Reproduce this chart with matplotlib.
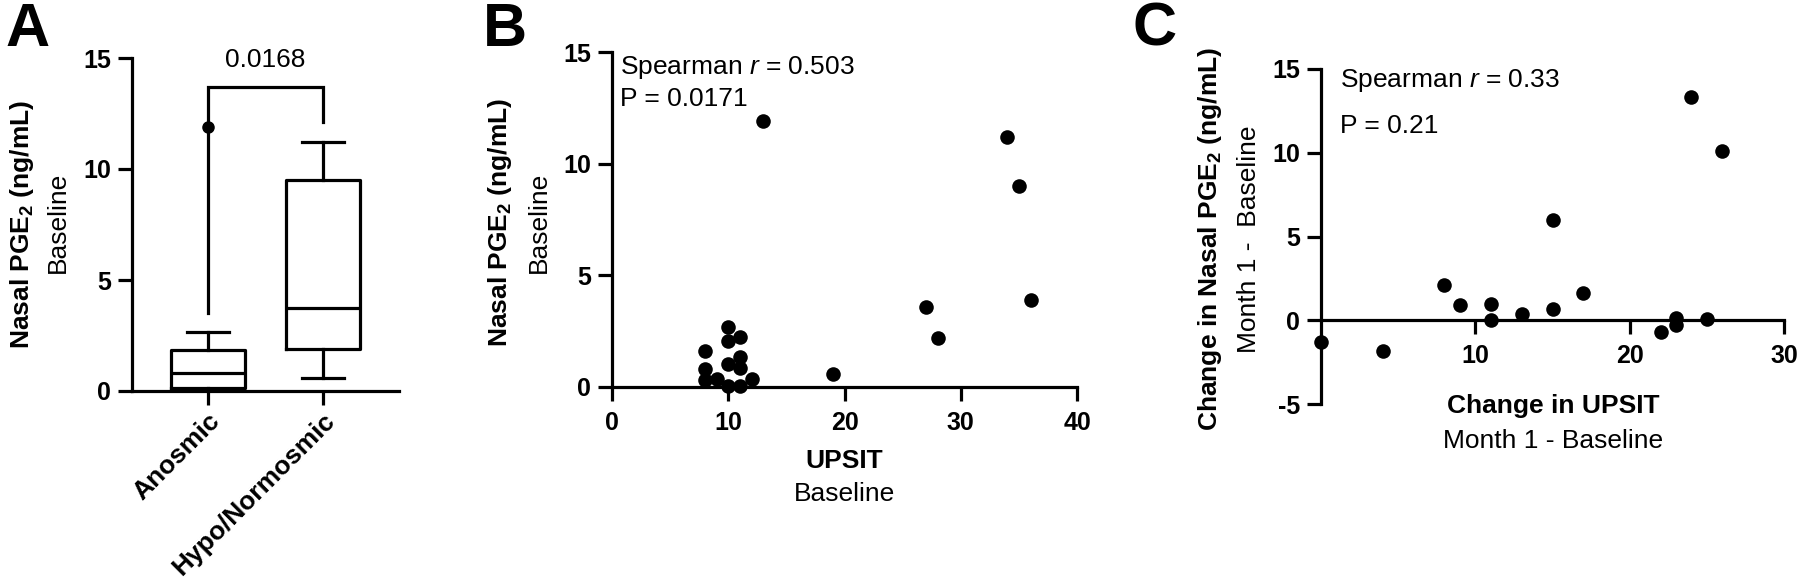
import matplotlib
matplotlib.use('Agg')
import matplotlib.pyplot as plt

plt.rcParams['font.family'] = ['Liberation Sans', 'DejaVu Sans']
plt.rcParams['mathtext.fontset'] = 'custom'
plt.rcParams['mathtext.rm'] = 'Liberation Sans'
plt.rcParams['mathtext.it'] = 'Liberation Sans:italic'
plt.rcParams['mathtext.bf'] = 'Liberation Sans:bold'
plt.rcParams['axes.unicode_minus'] = False

# ---------------- Panel A data (box plot statistics) ----------------
groups = ['Anosmic', 'Hypo/Normosmic']
box_whislo = [0.05, 0.6]
box_q1 = [0.12, 1.9]
box_med = [0.8, 3.75]
box_q3 = [1.85, 9.5]
box_whishi = [2.64, 11.2]
box_fliers = [[11.9], []]
pval_A = '0.0168'
bracket_y = 13.7
bracket_ends = [3.5, 12.1]

# ---------------- Panel B data ----------------
upsit_baseline = [8, 8, 8, 9, 10, 10, 10, 10, 11, 11, 11, 11, 12, 13, 19, 27, 28, 34, 35, 36]
pge2_baseline = [1.6, 0.8, 0.3, 0.38, 2.7, 2.05, 1.03, 0.05, 2.25, 1.33, 0.83, 0.05, 0.35,
                 11.9, 0.6, 3.6, 2.2, 11.2, 9.0, 3.9]
stats_B = ['Spearman $r$ = 0.503', 'P = 0.0171']

# ---------------- Panel C data ----------------
upsit_change = [0, 4, 8, 9, 11, 11, 13, 15, 15, 17, 22, 23, 23, 24, 25, 26]
pge2_change = [-1.3, -1.85, 2.1, 0.9, 1.0, 0.0, 0.4, 6.0, 0.65, 1.65, -0.7, 0.15, -0.3, 13.3, 0.05, 10.1]
stats_C = ['Spearman $r$ = 0.33', 'P = 0.21']

W, H = 1800, 581
fig = plt.figure(figsize=(W / 100, H / 100), dpi=100)


def rect(left, right, top, bottom):
    return [left / W, 1 - bottom / H, (right - left) / W, (bottom - top) / H]


LW = 2.3
TICK_FS = 18
LABEL_FS = 19
ANN_FS = 19
DOT = 110


def style(ax):
    for s in ['top', 'right']:
        ax.spines[s].set_visible(False)
    for s in ['left', 'bottom']:
        ax.spines[s].set_linewidth(LW)
        ax.spines[s].set_capstyle('projecting')
    ax.tick_params(direction='out', length=10, width=LW, labelsize=TICK_FS, pad=5)
    ax.tick_params(axis='x', pad=7)
    ax.patch.set_alpha(0)


def bold_ticks(ax):
    for lab in ax.get_xticklabels() + ax.get_yticklabels():
        lab.set_fontweight('bold')


def ftext(xpx, ypx, s, **kw):
    fig.text(xpx / W, 1 - ypx / H, s, ha='center', va='center', **kw)


# ---------------- Panel A ----------------
axA = fig.add_axes(rect(132, 399, 58, 391))
style(axA)
stats = []
for i in range(len(groups)):
    stats.append(dict(med=box_med[i], q1=box_q1[i], q3=box_q3[i],
                      whislo=box_whislo[i], whishi=box_whishi[i],
                      fliers=box_fliers[i], label=groups[i]))
lp = dict(color='black', linewidth=LW)
axA.bxp(stats, positions=[0, 1], widths=0.643, capwidths=0.357,
        boxprops=lp, whiskerprops=lp, capprops=lp, medianprops=lp,
        flierprops=dict(marker='o', markerfacecolor='black', markeredgecolor='black',
                        markersize=8, zorder=5),
        manage_ticks=False)
axA.plot([0, 0, 1, 1], [bracket_ends[0], bracket_y, bracket_y, bracket_ends[1]],
         color='black', lw=LW, clip_on=False, solid_capstyle='projecting',
         solid_joinstyle='miter')
axA.text(0.5, 14.6, pval_A, ha='center', va='baseline', fontsize=ANN_FS)
axA.set_xlim(-0.661, 1.661)
axA.set_ylim(0, 15)
axA.set_yticks([0, 5, 10, 15])
axA.set_xticks([0, 1])
axA.set_xticklabels(groups, rotation=45, ha='right', va='top', rotation_mode='anchor',
                    fontsize=19)
axA.tick_params(axis='x', pad=3)
bold_ticks(axA)

# ---------------- Panel B ----------------
axB = fig.add_axes(rect(612, 1077, 52, 387))
style(axB)
axB.scatter(upsit_baseline, pge2_baseline, s=DOT, color='black', clip_on=False, zorder=4,
            linewidths=0)
axB.set_xlim(0, 40)
axB.set_ylim(0, 15)
axB.set_xticks([0, 10, 20, 30, 40])
axB.set_yticks([0, 5, 10, 15])
axB.text(0.7, 14.3, stats_B[0], fontsize=ANN_FS, va='center', ha='left')
axB.text(0.7, 12.9, stats_B[1], fontsize=ANN_FS, va='center', ha='left')
bold_ticks(axB)

# ---------------- Panel C ----------------
axC = fig.add_axes(rect(1321, 1784, 69, 404))
style(axC)
axC.spines['bottom'].set_position(('data', 0))
axC.scatter(upsit_change, pge2_change, s=DOT, color='black', clip_on=False, zorder=4,
            linewidths=0)
axC.set_xlim(0, 30)
axC.set_ylim(-5, 15)
axC.set_xticks([10, 20, 30])
axC.set_yticks([-5, 0, 5, 10, 15])
axC.text(1.25, 14.3, stats_C[0], fontsize=ANN_FS, va='center', ha='left')
axC.text(1.25, 11.6, stats_C[1], fontsize=ANN_FS, va='center', ha='left')
bold_ticks(axC)

# ---------------- Axis titles ----------------
ftext(22, 224, r'Nasal PGE$_\mathbf{2}$ (ng/mL)', rotation=90, fontsize=LABEL_FS, fontweight='bold')
ftext(58, 222, 'Baseline', rotation=90, fontsize=LABEL_FS)

ftext(500, 222, r'Nasal PGE$_\mathbf{2}$ (ng/mL)', rotation=90, fontsize=LABEL_FS, fontweight='bold')
ftext(539, 222, 'Baseline', rotation=90, fontsize=LABEL_FS)
ftext(844, 461, 'UPSIT', fontsize=LABEL_FS, fontweight='bold')
ftext(844, 494, 'Baseline', fontsize=LABEL_FS)

ftext(1210, 239, r'Change in Nasal PGE$_\mathbf{2}$ (ng/mL)', rotation=90, fontsize=LABEL_FS,
      fontweight='bold')
ftext(1249, 239, 'Month 1 -  Baseline', rotation=90, fontsize=LABEL_FS)
ftext(1553, 406, 'Change in UPSIT', fontsize=LABEL_FS, fontweight='bold')
ftext(1553, 441, 'Month 1 - Baseline', fontsize=LABEL_FS)

# ---------------- Panel letters ----------------
for x, letter in [(28, 'A'), (505, 'B'), (1155, 'C')]:
    ftext(x, 30, letter, fontsize=44, fontweight='bold')

fig.savefig('out.png', dpi=100, facecolor='white')
